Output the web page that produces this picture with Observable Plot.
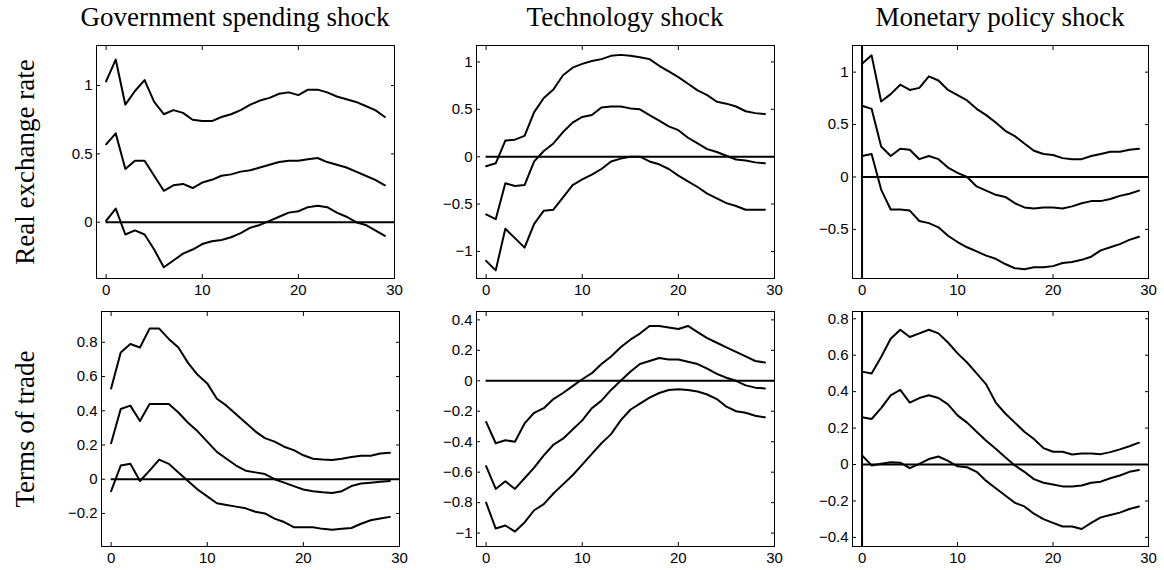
<!DOCTYPE html>
<html>
<head>
<meta charset="utf-8">
<script src="https://cdn.jsdelivr.net/npm/d3@7"></script>
<script src="https://cdn.jsdelivr.net/npm/@observablehq/plot@0.6"></script>
<style>
  html, body { margin: 0; padding: 0; background: #fff; }
  #chart { position: relative; width: 1164px; height: 570px; overflow: hidden; }
  .title, .rowlab { position: absolute; font-family: "Liberation Serif", "Times New Roman", serif; font-size: 27px; color: #000; white-space: nowrap; }
  .title { transform: translateX(-50%); }
  .rowlab { transform: translate(-50%, -50%) rotate(-90deg); }
  .panel { position: absolute; }
</style>
</head>
<body>
<div id="chart"></div>
<script>
// ---------------- data ----------------
const columnTitles = ["Government spending shock", "Technology shock", "Monetary policy shock"];
const rowTitles = ["Real exchange rate", "Terms of trade"];
const horizon = d3.range(0, 30); // 0..29
const xTicks = [0, 10, 20, 30];

// Real exchange rate — government spending shock
const rerGovUpper = [1.03,1.19,0.86,0.96,1.04,0.88,0.79,0.82,0.80,0.75,0.74,0.74,0.77,0.79,0.82,0.86,0.89,0.91,0.94,0.95,0.93,0.97,0.97,0.95,0.92,0.90,0.88,0.85,0.82,0.77];
const rerGovMid   = [0.57,0.65,0.39,0.45,0.45,0.34,0.23,0.27,0.28,0.25,0.29,0.31,0.34,0.35,0.37,0.38,0.40,0.42,0.44,0.45,0.45,0.46,0.47,0.44,0.42,0.40,0.37,0.34,0.31,0.27];
const rerGovLower = [0.01,0.10,-0.09,-0.06,-0.09,-0.20,-0.33,-0.28,-0.23,-0.20,-0.16,-0.14,-0.13,-0.11,-0.08,-0.04,-0.02,0.01,0.04,0.07,0.08,0.11,0.12,0.11,0.07,0.04,0.00,-0.02,-0.06,-0.10];
// Real exchange rate — technology shock
const rerTechUpper = [-0.10,-0.07,0.17,0.18,0.22,0.47,0.62,0.71,0.86,0.94,0.98,1.01,1.03,1.065,1.075,1.065,1.05,1.03,0.96,0.90,0.84,0.77,0.70,0.65,0.58,0.56,0.53,0.48,0.46,0.45];
const rerTechMid   = [-0.61,-0.66,-0.28,-0.31,-0.30,-0.05,0.06,0.14,0.26,0.36,0.42,0.44,0.52,0.53,0.53,0.51,0.50,0.44,0.38,0.32,0.28,0.20,0.14,0.08,0.05,0.01,-0.03,-0.04,-0.06,-0.07];
const rerTechLower = [-1.10,-1.20,-0.76,-0.86,-0.96,-0.71,-0.57,-0.56,-0.43,-0.30,-0.24,-0.19,-0.13,-0.05,-0.02,0.00,0.00,-0.05,-0.08,-0.13,-0.20,-0.26,-0.32,-0.39,-0.44,-0.49,-0.52,-0.56,-0.56,-0.56];
// Real exchange rate — monetary policy shock
const rerMonUpper = [1.08,1.16,0.72,0.79,0.88,0.83,0.85,0.96,0.92,0.83,0.78,0.73,0.65,0.59,0.52,0.44,0.39,0.32,0.25,0.22,0.21,0.18,0.17,0.17,0.20,0.22,0.24,0.24,0.26,0.27];
const rerMonMid   = [0.68,0.65,0.29,0.20,0.27,0.26,0.17,0.20,0.17,0.09,0.04,0.00,-0.09,-0.13,-0.17,-0.19,-0.25,-0.29,-0.30,-0.29,-0.29,-0.30,-0.28,-0.25,-0.23,-0.23,-0.21,-0.18,-0.16,-0.13];
const rerMonLower = [0.20,0.22,-0.12,-0.31,-0.31,-0.32,-0.42,-0.44,-0.48,-0.56,-0.62,-0.67,-0.71,-0.75,-0.78,-0.83,-0.87,-0.88,-0.86,-0.86,-0.85,-0.82,-0.81,-0.79,-0.76,-0.70,-0.67,-0.64,-0.60,-0.57];
// Terms of trade — government spending shock
const totGovUpper = [0.53,0.74,0.79,0.77,0.88,0.88,0.82,0.77,0.68,0.61,0.56,0.47,0.43,0.38,0.33,0.28,0.24,0.22,0.19,0.17,0.14,0.12,0.115,0.113,0.12,0.13,0.137,0.137,0.15,0.155];
const totGovMid   = [0.21,0.41,0.43,0.34,0.44,0.44,0.44,0.39,0.33,0.28,0.22,0.16,0.12,0.08,0.05,0.04,0.03,0.00,-0.02,-0.04,-0.06,-0.07,-0.076,-0.08,-0.07,-0.04,-0.025,-0.02,-0.015,-0.01];
const totGovLower = [-0.07,0.08,0.09,-0.01,0.05,0.115,0.09,0.04,-0.01,-0.06,-0.10,-0.14,-0.15,-0.16,-0.17,-0.19,-0.20,-0.23,-0.25,-0.28,-0.28,-0.28,-0.29,-0.295,-0.29,-0.285,-0.26,-0.24,-0.23,-0.22];
// Terms of trade — technology shock
const totTechUpper = [-0.27,-0.41,-0.39,-0.40,-0.28,-0.21,-0.18,-0.12,-0.08,-0.035,0.01,0.05,0.11,0.16,0.22,0.27,0.31,0.36,0.36,0.35,0.34,0.36,0.32,0.28,0.25,0.22,0.19,0.16,0.13,0.12];
const totTechMid   = [-0.56,-0.71,-0.66,-0.71,-0.64,-0.57,-0.49,-0.42,-0.38,-0.32,-0.26,-0.18,-0.13,-0.06,0.00,0.06,0.11,0.13,0.15,0.14,0.14,0.125,0.11,0.08,0.045,0.02,0.00,-0.03,-0.045,-0.05];
const totTechLower = [-0.80,-0.97,-0.95,-0.99,-0.93,-0.85,-0.81,-0.74,-0.68,-0.62,-0.55,-0.48,-0.41,-0.35,-0.26,-0.19,-0.15,-0.11,-0.08,-0.06,-0.055,-0.06,-0.07,-0.09,-0.12,-0.17,-0.20,-0.21,-0.23,-0.24];
// Terms of trade — monetary policy shock
const totMonUpper = [0.51,0.50,0.59,0.69,0.74,0.70,0.72,0.74,0.72,0.67,0.61,0.56,0.50,0.44,0.34,0.28,0.23,0.18,0.14,0.09,0.07,0.07,0.055,0.06,0.06,0.057,0.068,0.083,0.10,0.12];
const totMonMid   = [0.26,0.25,0.31,0.38,0.41,0.34,0.365,0.38,0.365,0.33,0.27,0.23,0.18,0.13,0.086,0.04,-0.005,-0.04,-0.08,-0.10,-0.11,-0.12,-0.12,-0.115,-0.10,-0.094,-0.075,-0.06,-0.04,-0.03];
const totMonLower = [0.05,-0.005,0.004,0.013,0.01,-0.02,0.004,0.03,0.044,0.02,-0.01,-0.015,-0.04,-0.09,-0.13,-0.17,-0.21,-0.23,-0.27,-0.30,-0.32,-0.34,-0.34,-0.354,-0.32,-0.29,-0.277,-0.264,-0.244,-0.23];

// y tick labels per panel
const yTicksRerGov  = [0, 0.5, 1];
const yTicksRerTech = [-1, -0.5, 0, 0.5, 1];
const yTicksRerMon  = [-0.5, 0, 0.5, 1];
const yTicksTotGov  = [-0.2, 0, 0.2, 0.4, 0.6, 0.8];
const yTicksTotTech = [-1, -0.8, -0.6, -0.4, -0.2, 0, 0.2, 0.4];
const yTicksTotMon  = [-0.4, -0.2, 0, 0.2, 0.4, 0.6, 0.8];

// y limits per panel
const yLimRerGov  = [-0.412, 1.293];
const yLimRerTech = [-1.286, 1.174];
const yLimRerMon  = [-0.968, 1.254];
const yLimTotGov  = [-0.393, 0.98];
const yLimTotTech = [-1.088, 0.455];
const yLimTotMon  = [-0.45, 0.84];
const xLim = [-1, 30];

// ---------------- layout ----------------
const panels = [
  {series: [rerGovUpper, rerGovMid, rerGovLower],    yTicks: yTicksRerGov,  yLim: yLimRerGov,  vline: false, box: [96, 45, 298, 233]},
  {series: [rerTechUpper, rerTechMid, rerTechLower], yTicks: yTicksRerTech, yLim: yLimRerTech, vline: false, box: [476, 45, 298, 233]},
  {series: [rerMonUpper, rerMonMid, rerMonLower],    yTicks: yTicksRerMon,  yLim: yLimRerMon,  vline: true,  box: [852, 45, 296, 233]},
  {series: [totGovUpper, totGovMid, totGovLower],    yTicks: yTicksTotGov,  yLim: yLimTotGov,  vline: false, box: [101, 311, 298, 235]},
  {series: [totTechUpper, totTechMid, totTechLower], yTicks: yTicksTotTech, yLim: yLimTotTech, vline: false, box: [476, 311, 298, 235]},
  {series: [totMonUpper, totMonMid, totMonLower],    yTicks: yTicksTotMon,  yLim: yLimTotMon,  vline: true,  box: [852, 311, 296, 235]}
];
const titlePos = [[235, 2], [625, 2], [1000, 2]];
const rowPos = [[25, 162], [25, 429]];

const chart = document.getElementById("chart");
const fmt = d => String(d).replace("-", "\u2212");
const M = {l: 45, r: 12, t: 12, b: 28};

panels.forEach(p => {
  const [left, top, w, h] = p.box;
  const rows = [];
  p.series.forEach((arr, k) => arr.forEach((v, i) => rows.push({t: horizon[i], v, band: k})));
  const svg = Plot.plot({
    width: w + M.l + M.r,
    height: h + M.t + M.b,
    marginLeft: M.l, marginRight: M.r, marginTop: M.t, marginBottom: M.b,
    x: {domain: xLim},
    y: {domain: p.yLim},
    style: {fontFamily: "'Liberation Sans', Arial, Helvetica, sans-serif", fontSize: "15px", color: "#000", background: "transparent", overflow: "visible"},
    marks: [
      Plot.axisX({anchor: "bottom", ticks: xTicks, tickSize: -4, tickPadding: 10, tickFormat: fmt, label: null}),
      Plot.axisX({anchor: "top", ticks: xTicks, tickSize: -4, tickFormat: () => "", label: null}),
      Plot.axisY({anchor: "left", ticks: p.yTicks, tickSize: -4, tickPadding: 8, tickFormat: fmt, label: null}),
      Plot.axisY({anchor: "right", ticks: p.yTicks, tickSize: -4, tickFormat: () => "", label: null}),
      Plot.ruleY([0], {x1: horizon[0], x2: xLim[1], stroke: "#000", strokeWidth: 2}),
      p.vline ? Plot.ruleX([horizon[0]], {stroke: "#000", strokeWidth: 2}) : null,
      Plot.line(rows, {x: "t", y: "v", z: "band", stroke: "#000", strokeWidth: 2}),
      Plot.frame({stroke: "#000", strokeWidth: 1})
    ]
  });
  svg.classList.add("panel");
  svg.style.left = (left - M.l) + "px";
  svg.style.top = (top - M.t) + "px";
  chart.appendChild(svg);
});

columnTitles.forEach((t, i) => {
  const d = document.createElement("div");
  d.className = "title";
  d.textContent = t;
  d.style.left = titlePos[i][0] + "px";
  d.style.top = titlePos[i][1] + "px";
  chart.appendChild(d);
});
rowTitles.forEach((t, i) => {
  const d = document.createElement("div");
  d.className = "rowlab";
  d.textContent = t;
  d.style.left = rowPos[i][0] + "px";
  d.style.top = rowPos[i][1] + "px";
  chart.appendChild(d);
});
</script>
</body>
</html>
